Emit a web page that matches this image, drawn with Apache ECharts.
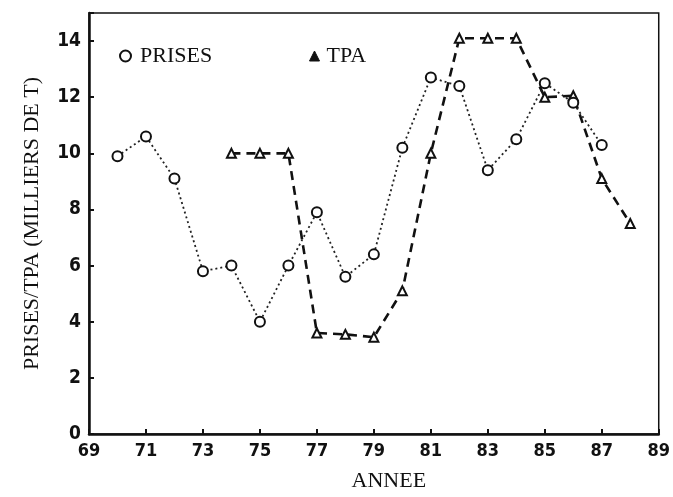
<!DOCTYPE html>
<html>
<head>
<meta charset="utf-8">
<script src="https://cdn.jsdelivr.net/npm/echarts@6/dist/echarts.min.js"></script>
<style>
  html, body { margin: 0; padding: 0; background: #fff; }
  #chart { width: 673px; height: 497px; }
</style>
</head>
<body>
<div id="chart"></div>
<script>
// Annual catches (PRISES) and total allowable catch (TPA), thousands of tonnes
const prisesYears = [70, 71, 72, 73, 74, 75, 76, 77, 78, 79, 80, 81, 82, 83, 84, 85, 86, 87];
const prisesValues = [9.9, 10.6, 9.1, 5.8, 6.0, 4.0, 6.0, 7.9, 5.6, 6.4, 10.2, 12.7, 12.4, 9.4, 10.5, 12.5, 11.8, 10.3];
const tpaYears = [74, 75, 76, 77, 78, 79, 80, 81, 82, 83, 84, 85, 86, 87, 88];
const tpaValues = [10, 10, 10, 3.6, 3.55, 3.45, 5.1, 10, 14.1, 14.1, 14.1, 12.0, 12.05, 9.1, 7.5];
const xTicks = [69, 71, 73, 75, 77, 79, 81, 83, 85, 87, 89];
const yTicks = [0, 2, 4, 6, 8, 10, 12, 14];

const pair = (xs, ys) => xs.map((x, i) => [x, ys[i]]);

const tickFont = '"Liberation Sans Narrow", "DejaVu Sans Condensed", sans-serif';
const textFont = '"Liberation Serif", "DejaVu Serif", serif';

const chart = echarts.init(document.getElementById('chart'));
chart.setOption({
  animation: false,
  backgroundColor: '#ffffff',
  grid: {
    left: 89, right: 8, top: 13, bottom: 57,
    show: true, borderColor: '#111', borderWidth: 1.5
  },
  legend: [
    {
      left: 114, top: 40, itemWidth: 11, itemHeight: 11,
      data: [{ name: 'PRISES', icon: 'circle' }],
      textStyle: { fontFamily: textFont, fontSize: 22, color: '#111', padding: [0, 0, 0, 4] },
      itemStyle: { color: '#fff', borderColor: '#111', borderWidth: 2 }
    },
    {
      left: 304, top: 40, itemWidth: 10, itemHeight: 10,
      data: [{ name: 'TPA', icon: 'triangle' }],
      textStyle: { fontFamily: textFont, fontSize: 22, color: '#111', padding: [0, 0, 0, 2] },
      itemStyle: { color: '#111', borderColor: '#111', borderWidth: 1 }
    }
  ],
  xAxis: {
    type: 'value', min: 69, max: 89, interval: 2,
    name: 'ANNEE', nameLocation: 'middle', nameGap: 36,
    nameTextStyle: { fontFamily: textFont, fontSize: 22, color: '#111', padding: [0, 0, 0, 30] },
    axisLine: { lineStyle: { color: '#111', width: 2.5 } },
    axisTick: { inside: true, length: 5, lineStyle: { color: '#111', width: 2 } },
    axisLabel: {
      margin: 8, fontFamily: tickFont, fontWeight: 'bold', fontSize: 18, color: '#111',
      formatter: v => xTicks.includes(v) ? String(v) : ''
    },
    splitLine: { show: false }
  },
  yAxis: {
    type: 'value', min: 0, max: 15, interval: 2,
    name: 'PRISES/TPA (MILLIERS DE T)', nameLocation: 'middle', nameGap: 46,
    nameTextStyle: { fontFamily: textFont, fontSize: 22, color: '#111' },
    axisLine: { show: true, lineStyle: { color: '#111', width: 2.5 } },
    axisTick: { show: true, inside: true, length: 5, lineStyle: { color: '#111', width: 2 } },
    axisLabel: {
      margin: 8, fontFamily: tickFont, fontWeight: 'bold', fontSize: 19, color: '#111',
      formatter: v => yTicks.includes(v) ? String(v) : ''
    },
    splitLine: { show: false }
  },
  series: [
    {
      name: 'PRISES', type: 'line', data: pair(prisesYears, prisesValues),
      symbol: 'emptyCircle', symbolSize: 10,
      lineStyle: { color: '#222', width: 1.8, type: [2, 3] },
      itemStyle: { color: '#111', borderColor: '#111', borderWidth: 2 },
      z: 3
    },
    {
      name: 'TPA', type: 'line', data: pair(tpaYears, tpaValues),
      symbol: 'emptyTriangle', symbolSize: 9,
      lineStyle: { color: '#111', width: 2.6, type: [9, 6] },
      itemStyle: { color: '#111', borderColor: '#111', borderWidth: 2 },
      z: 2
    }
  ]
});
</script>
</body>
</html>
